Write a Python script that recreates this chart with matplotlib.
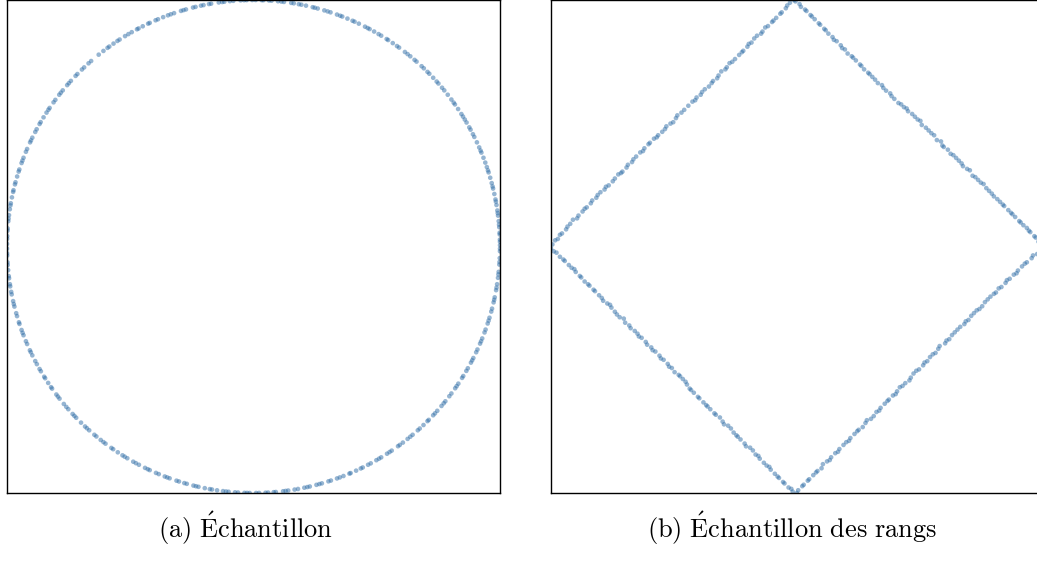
import numpy as np
import pandas as pd
import matplotlib
matplotlib.use("Agg")
import matplotlib.pyplot as plt

plt.rcParams['mathtext.fontset'] = 'cm'

# angles (degrees) of the sample points on the unit circle
angles_deg = [
    0.3, 1.1, 1.6, 2.8, 3.2, 4.5, 5.1, 5.9, 7.2, 7.8, 8.4, 9.7,
    10.5, 11.0, 12.3, 13.6, 14.1, 14.9, 16.2, 17.5, 18.0, 18.8, 19.9,
    21.1, 22.4, 22.9, 23.7, 25.0, 26.4, 27.1, 28.3, 28.9, 30.2,
    31.0, 31.8, 32.5, 33.9, 35.2, 35.7, 36.6, 38.0, 39.3, 40.1,
    41.4, 42.0, 43.2, 44.5, 45.1, 46.3, 47.0, 48.6, 49.2, 50.5,
    51.3, 52.1, 53.8, 54.4, 55.6, 56.9, 57.3, 58.8, 59.5, 60.7,
    61.9, 62.4, 63.1, 64.7, 65.8, 66.3, 67.6, 68.9, 69.4, 70.2,
    71.8, 72.5, 73.3, 74.9, 75.6, 76.1, 77.7, 78.8, 79.4, 80.6,
    81.2, 82.9, 83.5, 84.3, 85.8, 86.4, 87.7, 88.1, 89.5, 90.3,
    91.6, 92.2, 93.0, 94.7, 95.5, 96.8, 97.3, 98.1, 99.9, 100.4,
    101.7, 102.3, 103.6, 104.2, 105.9, 106.5, 107.1, 108.8, 109.6, 110.3,
    111.5, 112.8, 113.4, 114.9, 115.3, 116.7, 117.8, 118.2, 119.6, 120.5,
    121.4, 122.9, 123.5, 124.6, 125.8, 126.3, 127.5, 128.9, 131.2, 132.0,
    133.4, 134.1, 135.6, 136.2, 137.8, 138.5, 139.1, 140.7, 141.4, 142.0,
    143.5, 144.2, 145.8, 146.3, 147.1, 148.4, 149.7, 150.2, 151.6, 152.3,
    153.8, 154.5, 155.0, 156.7, 157.4, 158.9, 159.6, 160.2, 161.8, 162.3,
    163.5, 164.9, 165.4, 166.8, 167.2, 168.5, 169.9, 170.4, 171.3, 172.7,
    173.5, 174.1, 175.8, 176.3, 177.6, 178.2, 179.4, 180.5, 181.6, 182.1,
    183.7, 184.3, 185.5, 186.9, 187.4, 188.8, 189.3, 190.6, 191.2, 192.8,
    193.5, 194.1, 195.7, 196.4, 197.9, 198.3, 199.8, 200.5, 201.1, 202.6,
    203.3, 204.9, 205.4, 206.2, 207.7, 208.5, 209.8, 210.4, 211.9, 212.3,
    213.6, 214.8, 215.2, 216.9, 217.5, 218.1, 219.7, 220.6, 221.3, 222.8,
    223.4, 224.0, 225.6, 226.9, 227.5, 228.2, 229.8, 230.4, 231.7, 232.5,
    233.1, 234.8, 235.3, 236.6, 237.9, 238.5, 239.2, 240.8, 241.5, 242.3,
    243.9, 244.6, 245.1, 246.7, 247.4, 248.9, 249.5, 250.1, 251.8, 252.4,
    253.7, 254.3, 255.9, 256.5, 257.1, 258.6, 259.8, 260.3, 261.5, 262.9,
    263.6, 264.2, 265.7, 266.4, 267.9, 268.5, 269.1, 270.6, 271.3, 272.8,
    273.4, 274.7, 275.2, 276.9, 277.5, 278.1, 279.6, 280.4, 281.9, 282.6,
    283.2, 284.8, 285.5, 286.1, 287.7, 288.3, 289.8, 290.5, 291.4, 292.9,
    293.2, 294.6, 295.8, 296.3, 297.7, 298.4, 299.9, 300.6, 301.2, 302.8,
    303.5, 304.1, 305.9, 306.4, 307.3, 308.7, 309.5, 310.2, 311.8, 312.4,
    313.6, 314.9, 315.3, 316.8, 317.4, 318.2, 319.7, 320.5, 321.1, 322.6,
    323.4, 324.9, 325.5, 326.2, 327.8, 328.3, 329.7, 330.4, 331.9, 332.5,
    333.1, 334.6, 335.3, 336.8, 337.4, 338.1, 339.6, 340.3, 341.8, 342.5,
    343.2, 344.7, 345.4, 346.9, 347.5, 348.1, 349.8, 350.4, 351.2, 352.7,
    353.5, 354.1, 355.8, 356.4, 357.3, 358.9, 359.5,
]

captions = [r"$\mathrm{(a)\ \acute{E}chantillon}$",
            r"$\mathrm{(b)\ \acute{E}chantillon\ des\ rangs}$"]

theta = np.deg2rad(angles_deg)
df = pd.DataFrame({"x": np.cos(theta), "y": np.sin(theta)})
ranks = df.rank()

W, H = 1037, 567
fig = plt.figure(figsize=(W / 100, H / 100), dpi=100)
ax1 = fig.add_axes([7 / W, (H - 493) / H, 493 / W, 493 / H])
ax2 = fig.add_axes([551 / W, (H - 493) / H, 493 / W, 493 / H])

color = "#2e6da6"
ax1.scatter(df["x"], df["y"], s=11, color=color, alpha=0.5, edgecolors="none")
ax1.set_xlim(df["x"].min(), df["x"].max())
ax1.set_ylim(df["y"].min(), df["y"].max())

ax2.scatter(ranks["x"], ranks["y"], s=11, color=color, alpha=0.5, edgecolors="none")
ax2.set_xlim(ranks["x"].min(), ranks["x"].max())
ax2.set_ylim(ranks["y"].min(), ranks["y"].max())

for ax, cap, cx in zip([ax1, ax2], captions, [246, 792]):
    ax.set_xticks([])
    ax.set_yticks([])
    for sp in ax.spines.values():
        sp.set_linewidth(1.0)
    fig.text(cx / W, 1 - 528 / H, cap, ha="center", va="center", fontsize=19)

fig.savefig("out.png", dpi=100)
